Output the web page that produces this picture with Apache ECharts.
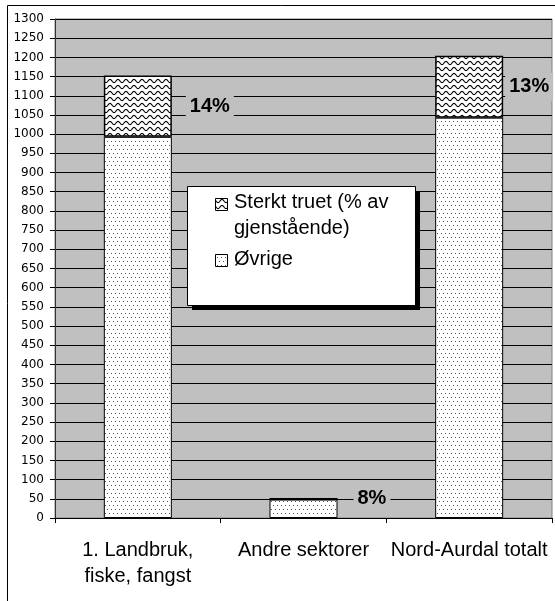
<!DOCTYPE html>
<html>
<head>
<meta charset="utf-8">
<script src="https://cdn.jsdelivr.net/npm/echarts@6/dist/echarts.min.js"></script>
<style>
html, body { margin: 0; padding: 0; background: #fff; }
#chart { width: 555px; height: 601px; }
</style>
</head>
<body>
<div id="chart"></div>
<script>
// data
const categories = ['1. Landbruk,\nfiske, fangst', 'Andre sektorer', 'Nord-Aurdal totalt']
const ovrige = [993, 48, 1043]
const sterktTruet = [160, 4, 161]
const shareLabels = ['14%', '8%', '13%']
const seriesNames = ['Sterkt truet (% av gjenstående)', 'Øvrige']
const legendTexts = ['Sterkt truet (% av\ngjenstående)', 'Øvrige']
const yMin = 0
const yMax = 1300
const yStep = 50

// fill patterns (waves / dots) drawn on small tiles
const makeWave = () => {
  const c = document.createElement('canvas')
  c.width = 8
  c.height = 6
  const g = c.getContext('2d')
  g.fillStyle = '#fff'
  g.fillRect(0, 0, 8, 6)
  g.strokeStyle = '#000'
  g.lineWidth = 1.1
  g.beginPath()
  for (let x = -1; x <= 9; x += 0.25) {
    const y = 3 + 1.6 * Math.sin(x / 8 * Math.PI * 2)
    if (x === -1) g.moveTo(x, y)
    else g.lineTo(x, y)
  }
  g.stroke()
  return c
}

const makeDots = () => {
  const c = document.createElement('canvas')
  c.width = 8
  c.height = 8
  const g = c.getContext('2d')
  g.fillStyle = '#fff'
  g.fillRect(0, 0, 8, 8)
  g.fillStyle = '#555'
  g.fillRect(1, 1, 1, 1)
  g.fillRect(5, 1, 1, 1)
  g.fillRect(3, 5, 1, 1)
  g.fillRect(7, 5, 1, 1)
  return c
}

const waveFill = { image: makeWave(), repeat: 'repeat' }
const dotFill = { image: makeDots(), repeat: 'repeat' }

const chart = echarts.init(document.getElementById('chart'), null, { renderer: 'canvas' })

const option = {
  animation: false,
  backgroundColor: '#fff',
  grid: {
    left: 55,
    top: 19,
    width: 497,
    height: 499,
    show: true,
    backgroundColor: '#c0c0c0',
    borderColor: '#808080',
    borderWidth: 1,
    outerBoundsMode: 'none'
  },
  xAxis: {
    type: 'category',
    data: categories,
    boundaryGap: true,
    axisLine: { show: true, lineStyle: { color: '#000', width: 1 } },
    axisTick: { show: true, interval: 0, length: 5, lineStyle: { color: '#000' } },
    axisLabel: {
      interval: 0,
      margin: 19,
      color: '#000',
      fontSize: 20,
      lineHeight: 26,
      fontFamily: '"Liberation Sans", Arial, sans-serif'
    },
    splitLine: { show: false }
  },
  yAxis: {
    type: 'value',
    min: yMin,
    max: yMax,
    interval: yStep,
    axisLine: { show: true, lineStyle: { color: '#333', width: 1 } },
    axisTick: { show: true, length: 5, lineStyle: { color: '#000' } },
    axisLabel: {
      margin: 11,
      color: '#000',
      fontSize: 12,
      fontFamily: '"DejaVu Sans", sans-serif',
      formatter: v => String(v)
    },
    splitLine: { show: true, lineStyle: { color: '#000', width: 1 } }
  },
  series: [
    {
      name: seriesNames[1],
      type: 'bar',
      stack: 'total',
      barWidth: 68,
      data: ovrige,
      itemStyle: { color: dotFill, borderColor: '#000', borderWidth: 1 }
    },
    {
      name: seriesNames[0],
      type: 'bar',
      stack: 'total',
      barWidth: 68,
      data: sterktTruet.map((v, i) => ({
        value: v,
        label: { distance: i === 2 ? 2 : (i === 1 ? 16 : 14) }
      })),
      itemStyle: { color: waveFill, borderColor: '#000', borderWidth: 1.5 },
      label: {
        show: true,
        position: 'right',
        formatter: p => shareLabels[p.dataIndex],
        color: '#000',
        fontSize: 20,
        fontWeight: 'bold',
        fontFamily: '"Liberation Sans", Arial, sans-serif',
        backgroundColor: '#c0c0c0',
        padding: [4, 4]
      }
    }
  ],
  graphic: [
    // outer chart border
    {
      type: 'rect', z: -10, silent: true,
      shape: { x: 7.5, y: 5.5, width: 700, height: 700 },
      style: { fill: 'none', stroke: '#000', lineWidth: 1 }
    },
    // legend box with shadow
    {
      type: 'rect', z: 100, silent: true,
      shape: { x: 192, y: 191, width: 228, height: 119 },
      style: { fill: '#000' }
    },
    {
      type: 'rect', z: 101, silent: true,
      shape: { x: 187.5, y: 186.5, width: 228, height: 119 },
      style: { fill: '#fff', stroke: '#000', lineWidth: 1 }
    },
    {
      type: 'rect', z: 102, silent: true,
      shape: { x: 215.5, y: 198.5, width: 12, height: 12 },
      style: { fill: waveFill, stroke: '#000', lineWidth: 1 }
    },
    {
      type: 'text', z: 102, silent: true, x: 234, y: 189,
      style: {
        text: legendTexts[0],
        font: '20px "Liberation Sans", Arial, sans-serif',
        lineHeight: 26,
        fill: '#000',
        verticalAlign: 'top'
      }
    },
    {
      type: 'rect', z: 102, silent: true,
      shape: { x: 215.5, y: 254.5, width: 12, height: 12 },
      style: { fill: dotFill, stroke: '#000', lineWidth: 1 }
    },
    {
      type: 'text', z: 102, silent: true, x: 234, y: 246,
      style: {
        text: legendTexts[1],
        font: '20px "Liberation Sans", Arial, sans-serif',
        lineHeight: 26,
        fill: '#000',
        verticalAlign: 'top'
      }
    }
  ]
}

chart.setOption(option)
</script>
</body>
</html>
